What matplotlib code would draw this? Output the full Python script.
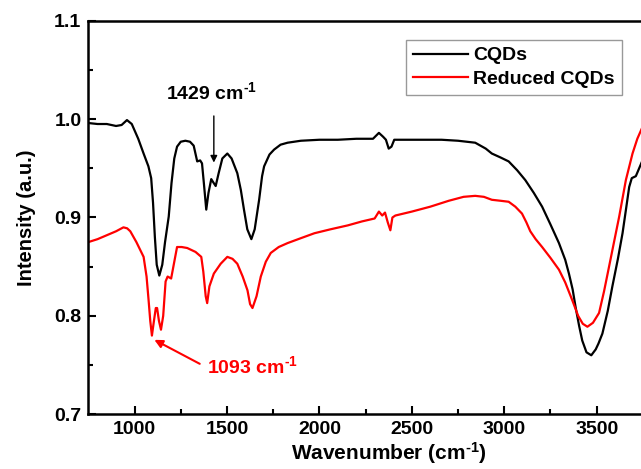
import matplotlib
matplotlib.use("Agg")
import matplotlib.pyplot as plt

plt.rcParams['font.family'] = ['Liberation Sans', 'DejaVu Sans']
plt.rcParams['font.weight'] = 'bold'
plt.rcParams['mathtext.fontset'] = 'custom'
plt.rcParams['mathtext.bf'] = 'Liberation Sans:bold'
plt.rcParams['mathtext.rm'] = 'Liberation Sans:bold'
plt.rcParams['mathtext.default'] = 'bf'

# FTIR spectra
cqd_x = [750, 800, 850, 900, 930, 959, 985, 1020, 1049, 1075, 1090, 1100, 1110, 1120, 1134,
         1150, 1165, 1185, 1200, 1215, 1230, 1250, 1275, 1300, 1320, 1339, 1355, 1365, 1375,
         1388, 1400, 1415, 1425, 1439, 1455, 1475, 1502, 1525, 1556, 1575, 1592, 1610, 1632,
         1650, 1674, 1690, 1701, 1730, 1755, 1790, 1828, 1900, 2000, 2100, 2200, 2290, 2322,
         2345, 2360, 2375, 2390, 2405, 2500, 2661, 2750, 2843, 2900, 2933, 2980, 3024, 3070,
         3114, 3160, 3205, 3250, 3296, 3330, 3350, 3370, 3386, 3405, 3422, 3445, 3471, 3495,
         3510, 3531, 3560, 3585, 3615, 3640, 3660, 3676, 3690, 3712, 3730, 3748, 3760]
cqd_y = [0.996, 0.995, 0.995, 0.993, 0.994, 0.999, 0.995, 0.980, 0.965, 0.952, 0.940, 0.915,
         0.880, 0.852, 0.841, 0.852, 0.875, 0.901, 0.935, 0.960, 0.972, 0.977, 0.978, 0.977,
         0.973, 0.957, 0.958, 0.955, 0.935, 0.908, 0.925, 0.939, 0.936, 0.932, 0.945, 0.960,
         0.965, 0.960, 0.945, 0.928, 0.908, 0.888, 0.878, 0.888, 0.918, 0.942, 0.952, 0.964,
         0.969, 0.974, 0.976, 0.978, 0.979, 0.979, 0.980, 0.980, 0.986, 0.982, 0.979, 0.970,
         0.972, 0.979, 0.979, 0.979, 0.978, 0.976, 0.970, 0.965, 0.961, 0.957, 0.948, 0.938,
         0.925, 0.911, 0.893, 0.874, 0.857, 0.843, 0.827, 0.809, 0.790, 0.775, 0.763, 0.760,
         0.766, 0.772, 0.782, 0.805, 0.830, 0.858, 0.884, 0.910, 0.931, 0.940, 0.942, 0.950,
         0.958, 0.960]

red_x = [750, 800, 850, 900, 940, 960, 977, 1010, 1049, 1065, 1076, 1085, 1094, 1105, 1115,
         1122, 1132, 1143, 1155, 1168, 1179, 1198, 1210, 1230, 1255, 1285, 1330, 1361, 1372,
         1385, 1393, 1405, 1429, 1466, 1502, 1530, 1556, 1585, 1611, 1625, 1638, 1660, 1683,
         1710, 1737, 1780, 1828, 1900, 1973, 2060, 2154, 2230, 2299, 2322, 2340, 2355, 2370,
         2384, 2395, 2411, 2500, 2600, 2700, 2780, 2843, 2890, 2933, 2980, 3024, 3060, 3096,
         3120, 3141, 3170, 3205, 3250, 3296, 3330, 3368, 3400, 3425, 3450, 3480, 3513, 3540,
         3567, 3595, 3622, 3658, 3694, 3720, 3748, 3760]
red_y = [0.875, 0.878, 0.882, 0.886, 0.890, 0.889, 0.886, 0.875, 0.860, 0.840, 0.816, 0.795,
         0.780, 0.795, 0.808, 0.808, 0.795, 0.786, 0.800, 0.835, 0.840, 0.838, 0.850, 0.870,
         0.870, 0.869, 0.865, 0.860, 0.845, 0.820, 0.813, 0.830, 0.843, 0.853, 0.860, 0.858,
         0.853, 0.840, 0.826, 0.812, 0.808, 0.820, 0.840, 0.855, 0.864, 0.870, 0.874, 0.879,
         0.884, 0.888, 0.892, 0.896, 0.899, 0.906, 0.902, 0.905, 0.895, 0.887, 0.900, 0.902,
         0.906, 0.911, 0.917, 0.921, 0.922, 0.921, 0.918, 0.917, 0.916, 0.911, 0.904, 0.895,
         0.886, 0.878, 0.870, 0.859, 0.847, 0.834, 0.816, 0.800, 0.792, 0.789, 0.793, 0.803,
         0.825, 0.850, 0.876, 0.901, 0.938, 0.965, 0.980, 0.992, 0.995]

x_ticks = [1000, 1500, 2000, 2500, 3000, 3500]
y_ticks = [0.7, 0.8, 0.9, 1.0, 1.1]

SUP = r'$^{\text{-}1}$'

fig = plt.figure(figsize=(6.41, 4.69), dpi=100)
# axes runs past the right edge of the figure, as in the reference
ax = fig.add_axes([0.1378, 0.1166, 0.9372, 0.8393])

ax.plot(cqd_x, cqd_y, color='black', lw=1.6, label='CQDs')
ax.plot(red_x, red_y, color='red', lw=1.6, label='Reduced CQDs')

ax.set_xlim(750, 4000)
ax.set_ylim(0.7, 1.1)
ax.set_xticks(x_ticks)
ax.set_xticks([1250, 1750, 2250, 2750, 3250, 3750], minor=True)
ax.set_yticks(y_ticks)
ax.set_yticks([0.75, 0.85, 0.95, 1.05], minor=True)
ax.set_yticklabels(['%.1f' % v for v in y_ticks])
ax.tick_params(which='major', direction='in', length=6, width=1.5, labelsize=14, pad=5)
ax.tick_params(which='minor', direction='in', length=3.5, width=1.5)
for s in ax.spines.values():
    s.set_linewidth(1.8)

ax.set_xlabel('Wavenumber (cm' + SUP + ')', fontsize=15, fontweight='bold', labelpad=1)
ax.set_ylabel('Intensity (a.u.)', fontsize=14.5, fontweight='bold', labelpad=13)

leg = ax.legend(loc='upper right', bbox_to_anchor=(0.970, 0.9147), bbox_transform=fig.transFigure,
                fontsize=14, frameon=True, fancybox=False, borderaxespad=0,
                handlelength=2.8, handletextpad=0.3, labelspacing=0.3, borderpad=0.35)
leg.get_frame().set_edgecolor('gray')
leg.get_frame().set_linewidth(1.0)

ax.annotate('', xy=(1429, 0.953), xytext=(1429, 1.006),
            arrowprops=dict(arrowstyle='-|>', color='black', lw=1.0, mutation_scale=10))
ax.text(1418, 1.027, '1429 cm' + SUP, ha='center', va='center', fontsize=14, fontweight='bold')

ax.annotate('', xy=(1094, 0.777), xytext=(1366, 0.750),
            arrowprops=dict(arrowstyle='-|>', color='red', lw=1.5, mutation_scale=12))
ax.text(1393, 0.749, '1093 cm' + SUP, ha='left', va='center', fontsize=14,
        fontweight='bold', color='red')

fig.savefig('out.png', dpi=100)
